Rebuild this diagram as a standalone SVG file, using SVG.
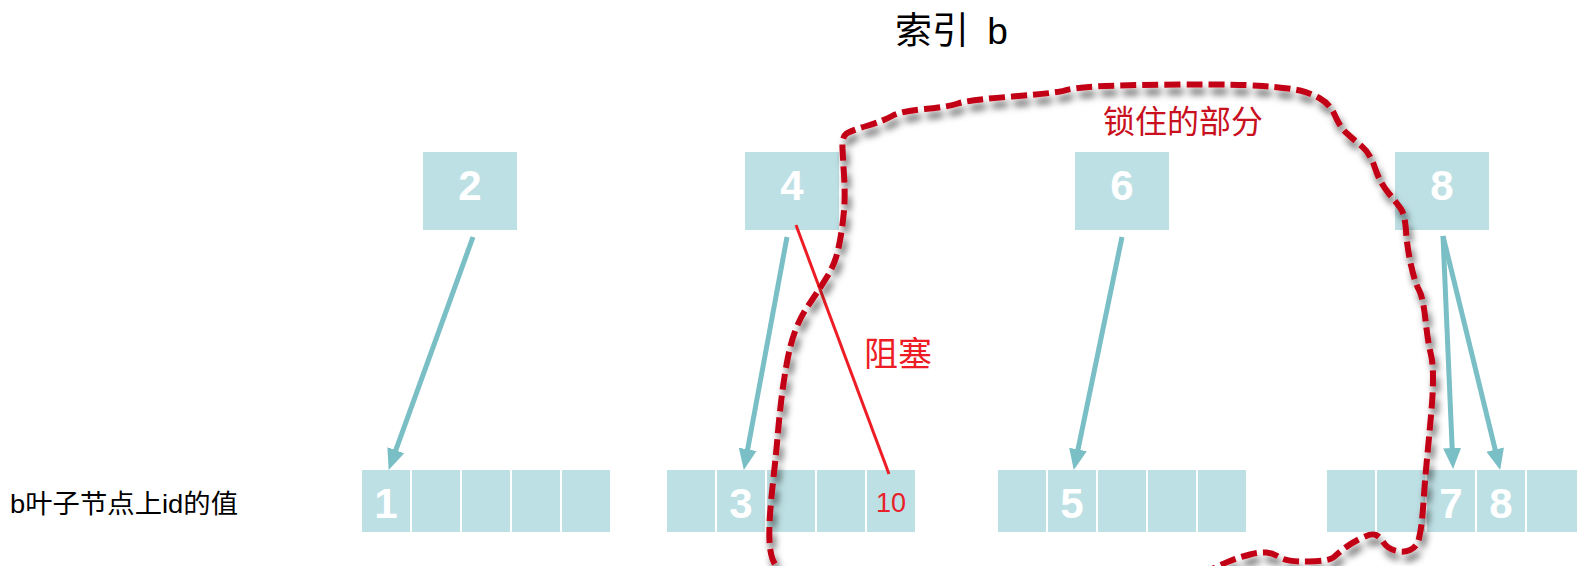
<svg xmlns="http://www.w3.org/2000/svg" width="1580" height="566" viewBox="0 0 1580 566">
<style>
.box{fill:#BDE0E4;}
.dg{font-family:"Liberation Sans",Arial,sans-serif;font-weight:bold;font-size:42px;fill:#FFFFFF;text-anchor:middle;}
.cjk{font-family:"Liberation Sans","Noto Sans CJK SC",sans-serif;}
.arr{stroke:#79BFC5;stroke-width:5;fill:none;marker-end:url(#ah);}
</style>
<defs>
<marker id="ah" markerUnits="userSpaceOnUse" markerWidth="22" markerHeight="20" refX="8" refY="9" orient="auto" viewBox="0 0 22 18">
<path d="M0,0 L21,9 L0,18 Z" fill="#79BFC5"/>
</marker>
<filter id="sh" filterUnits="userSpaceOnUse" x="0" y="0" width="1580" height="620">
<feGaussianBlur in="SourceAlpha" stdDeviation="3.5"/>
<feOffset dx="3" dy="7" result="o"/>
<feFlood flood-color="#000000" flood-opacity="0.6"/>
<feComposite in2="o" operator="in" result="s"/>
<feMerge><feMergeNode in="s"/><feMergeNode in="SourceGraphic"/></feMerge>
</filter>
</defs>
<rect width="1580" height="566" fill="#FFFFFF"/>
<text x="895" y="44" class="cjk" font-size="37" fill="#000000">索引 <tspan dx="8">b</tspan></text>
<text x="10" y="513" class="cjk" font-size="26" fill="#000000" textLength="228" lengthAdjust="spacingAndGlyphs">b叶子节点上id的值</text>

<g id="node-top-2"><rect class="box" x="423" y="152" width="94" height="78"/><text class="dg" x="470" y="200">2</text></g>
<g id="node-top-4"><rect class="box" x="745" y="152" width="94" height="78"/><text class="dg" x="792" y="200">4</text></g>
<g id="node-top-6"><rect class="box" x="1075" y="152" width="94" height="78"/><text class="dg" x="1122" y="200">6</text></g>
<g id="node-top-8"><rect class="box" x="1395" y="152" width="94" height="78"/><text class="dg" x="1442" y="200">8</text></g>

<g id="leaf-1">
<rect class="box" x="362" y="470" width="48" height="62"/><rect class="box" x="412" y="470" width="48" height="62"/><rect class="box" x="462" y="470" width="48" height="62"/><rect class="box" x="512" y="470" width="48" height="62"/><rect class="box" x="562" y="470" width="48" height="62"/>
<text class="dg" x="386" y="518">1</text>
</g>
<g id="leaf-2">
<rect class="box" x="667" y="470" width="48" height="62"/><rect class="box" x="717" y="470" width="48" height="62"/><rect class="box" x="767" y="470" width="48" height="62"/><rect class="box" x="817" y="470" width="48" height="62"/><rect class="box" x="867" y="470" width="48" height="62"/>
<text class="dg" x="741" y="518">3</text>
<text x="891" y="512" font-family="Liberation Sans,Arial,sans-serif" font-size="27" fill="#E8202A" text-anchor="middle">10</text>
</g>
<g id="leaf-3">
<rect class="box" x="998" y="470" width="48" height="62"/><rect class="box" x="1048" y="470" width="48" height="62"/><rect class="box" x="1098" y="470" width="48" height="62"/><rect class="box" x="1148" y="470" width="48" height="62"/><rect class="box" x="1198" y="470" width="48" height="62"/>
<text class="dg" x="1072" y="518">5</text>
</g>
<g id="leaf-4">
<rect class="box" x="1327" y="470" width="48" height="62"/><rect class="box" x="1377" y="470" width="48" height="62"/><rect class="box" x="1427" y="470" width="48" height="62"/><rect class="box" x="1477" y="470" width="48" height="62"/><rect class="box" x="1527" y="470" width="50" height="62"/>
<text class="dg" x="1451" y="518">7</text>
<text class="dg" x="1501" y="518">8</text>
</g>

<g id="connectors">
<line class="arr" x1="473" y1="237" x2="393.1" y2="457.7"/>
<line class="arr" x1="787" y1="237" x2="746.2" y2="457.2"/>
<line class="arr" x1="1122" y1="237" x2="1076.4" y2="457.3"/>
<line class="arr" x1="1443" y1="236" x2="1452.5" y2="456"/>
<line class="arr" x1="1443" y1="236" x2="1497.1" y2="457.3"/>
<line x1="796" y1="225" x2="889" y2="474" stroke="#EE1D25" stroke-width="3"/>
</g>

<g id="locked-region">
<path filter="url(#sh)" fill="none" stroke="#C20014" stroke-width="6" stroke-dasharray="16 6" d="M 790,580 L 782.5,573 Q 775,566 772.5,559 Q 770,552 769.5,541 Q 769,530 770,515 Q 771,500 773.5,477.5 Q 776,455 777.5,437.5 Q 779,420 781,402.5 Q 783,385 786.5,365 Q 790,345 795,331.5 Q 800,318 806,309 Q 812,300 817,292.5 Q 822,285 827.5,276 Q 833,267 836,257.5 Q 839,248 841.5,231.5 Q 844,215 844.5,202.5 Q 845,190 844,175 Q 843,160 842.5,148.5 Q 842,137 846,134 Q 850,131 866.5,126 Q 883,121 892,116 Q 901,111 924.5,109 Q 948,107 958,103.5 Q 968,100 1012.5,96.5 Q 1057,93 1064.5,90.5 Q 1072,88 1096,86.5 Q 1120,85 1178,84.5 Q 1236,84 1263,86 Q 1290,88 1300,90.5 Q 1310,93 1320,98.5 Q 1330,104 1335,115.5 Q 1340,127 1346.5,133 Q 1353,139 1361.5,146 Q 1370,153 1375,168 Q 1380,183 1388.5,193 Q 1397,203 1401,209 Q 1405,215 1406,231 Q 1407,247 1411,265 Q 1415,283 1419,290 Q 1423,297 1425.5,320 Q 1428,343 1430.5,352.5 Q 1433,362 1433,377.5 Q 1433,393 1431.5,410 Q 1430,427 1427.5,453.5 Q 1425,480 1424,495 Q 1423,510 1422,520 Q 1421,530 1419,538.5 Q 1417,547 1410,550 Q 1403,553 1395,550.5 Q 1387,548 1383.5,542.5 Q 1380,537 1376,535 Q 1372,533 1362.5,537.5 Q 1353,542 1345.5,547.5 Q 1338,553 1334,557 Q 1330,561 1308.5,561.5 Q 1287,562 1280,557.5 Q 1273,553 1266.5,552.5 Q 1260,552 1250,554.5 Q 1240,557 1230,561 Q 1220,565 1210,570 L 1200,575 L 1190,590"/>
<text x="1103" y="133" class="cjk" font-size="32" fill="#C8101E">锁住的部分</text>
</g>
<text x="864" y="366" class="cjk" font-size="34" fill="#EE1D25">阻塞</text>
</svg>
